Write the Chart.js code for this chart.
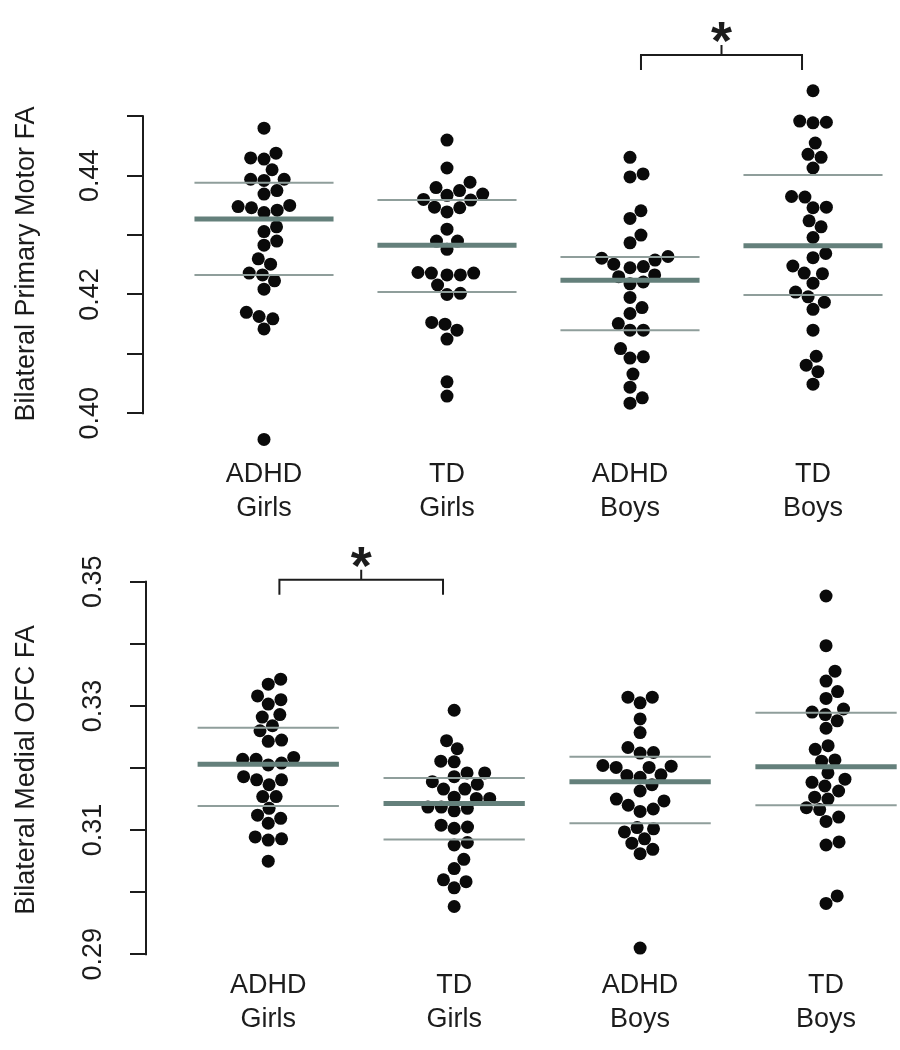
<!DOCTYPE html>
<html><head><meta charset="utf-8">
<script src="https://cdn.jsdelivr.net/npm/chart.js@4.4.1/dist/chart.umd.min.js"></script>
<style>
html,body{margin:0;padding:0;background:#fff}
#wrap{width:900px;height:1050px;position:relative}
.p{position:absolute;left:0;width:900px;height:525px}
canvas{display:block}
</style>
</head><body>
<div id="wrap">
  <div class="p" style="top:0"><canvas id="c1" width="900" height="525"></canvas></div>
  <div class="p" style="top:525px"><canvas id="c2" width="900" height="525"></canvas></div>
</div>
<script>
// ---------- DATA ----------
const groupLabels = [["ADHD","Girls"],["TD","Girls"],["ADHD","Boys"],["TD","Boys"]];

const motorAdhdGirls = [0.4480,0.4438,0.4428,0.4430,0.4410,0.4394,0.4392,0.4394,0.4369,0.4375,0.4348,0.4346,0.4338,0.4342,0.4350,0.4314,0.4306,0.4283,0.4290,0.4260,0.4251,0.4236,0.4233,0.4223,0.4209,0.4170,0.4163,0.4159,0.4142,0.3956];
const motorTdGirls   = [0.4460,0.4413,0.4380,0.4389,0.4367,0.4375,0.4369,0.4360,0.4347,0.4339,0.4346,0.4359,0.4310,0.4290,0.4290,0.4276,0.4237,0.4236,0.4233,0.4233,0.4236,0.4216,0.4200,0.4202,0.4153,0.4150,0.4140,0.4125,0.4053,0.4029];
const motorAdhdBoys  = [0.4431,0.4398,0.4403,0.4328,0.4341,0.4287,0.4300,0.4261,0.4251,0.4245,0.4247,0.4258,0.4264,0.4230,0.4218,0.4221,0.4233,0.4195,0.4168,0.4178,0.4151,0.4140,0.4140,0.4109,0.4093,0.4095,0.4066,0.4044,0.4017,0.4026];
const motorTdBoys    = [0.4543,0.4492,0.4489,0.4490,0.4455,0.4436,0.4431,0.4413,0.4365,0.4364,0.4347,0.4346,0.4324,0.4314,0.4296,0.4262,0.4269,0.4248,0.4235,0.4236,0.4219,0.4204,0.4196,0.4187,0.4175,0.4140,0.4096,0.4081,0.4070,0.4049];
// summary lines per group: [lower, mean, upper]
const motorLines = [[0.4233,0.4327,0.4388],[0.4204,0.4283,0.4359],[0.4140,0.4224,0.4263],[0.4199,0.4282,0.4401]];
const motorTicks = [0.40,0.41,0.42,0.43,0.44,0.45];
const motorTickLabels = ["0.40","0.42","0.44"];
const motorSig = [3,4];

const ofcAdhdGirls = [0.3343,0.3335,0.3316,0.3310,0.3303,0.3286,0.3282,0.3268,0.3260,0.3243,0.3245,0.3214,0.3214,0.3205,0.3208,0.3217,0.3186,0.3181,0.3173,0.3181,0.3154,0.3154,0.3135,0.3124,0.3111,0.3119,0.3089,0.3084,0.3086,0.3050];
const ofcTdGirls   = [0.3293,0.3244,0.3231,0.3210,0.3211,0.3192,0.3192,0.3186,0.3174,0.3178,0.3166,0.3166,0.3153,0.3151,0.3151,0.3137,0.3137,0.3131,0.3135,0.3108,0.3103,0.3105,0.3076,0.3080,0.3053,0.3038,0.3020,0.3017,0.3007,0.2977];
const ofcAdhdBoys  = [0.3314,0.3314,0.3305,0.3279,0.3257,0.3233,0.3224,0.3225,0.3204,0.3201,0.3201,0.3203,0.3188,0.3185,0.3189,0.3173,0.3163,0.3150,0.3147,0.3140,0.3134,0.3130,0.3104,0.3102,0.3097,0.3086,0.3079,0.3069,0.3062,0.2910];
const ofcTdBoys    = [0.3477,0.3397,0.3356,0.3340,0.3323,0.3312,0.3290,0.3286,0.3295,0.3276,0.3264,0.3236,0.3230,0.3213,0.3211,0.3192,0.3177,0.3182,0.3171,0.3163,0.3153,0.3150,0.3136,0.3133,0.3114,0.3121,0.3076,0.3081,0.2994,0.2982];
const ofcLines = [[0.3139,0.3206,0.3265],[0.3085,0.3143,0.3184],[0.3111,0.3178,0.3218],[0.3140,0.3202,0.3289]];
const ofcTicks = [0.29,0.30,0.31,0.32,0.33,0.34,0.35];
const ofcTickLabels = ["0.29","0.31","0.33","0.35"];
const ofcSig = [1,2];

// ---------- RENDERING ----------
const FONT = '"Liberation Sans", Arial, Helvetica, sans-serif';
Chart.defaults.font.family = FONT;
const INK = '#1c1c1c';
const MEAN_COLOR = '#64807b';
const BAND_COLOR = '#8f9e9b';
const DOT_D = 13.4; // swarm spacing in px

// R beeswarm "swarm" method, priority ascending; works in pixel units
function swarmOffsets(pixYs, d) {
  const idx = pixYs.map((_, i) => i).sort((a, b) => pixYs[b] - pixYs[a]);
  const placed = [];
  const off = new Array(pixYs.length).fill(0);
  for (const i of idx) {
    const yi = pixYs[i] / d;
    const close = placed.filter(p => Math.abs(yi - p.y) < 1).sort((a, b) => Math.abs(a.x) - Math.abs(b.x));
    let xi = 0;
    if (close.length) {
      const cands = [0];
      close.forEach(p => cands.push(p.x + Math.sqrt(1 - (yi - p.y) ** 2)));
      close.forEach(p => cands.push(p.x - Math.sqrt(1 - (yi - p.y) ** 2)));
      let best = 0, bestAbs = Infinity;
      for (const c of cands) {
        const bad = close.some(p => (yi - p.y) ** 2 + (c - p.x) ** 2 < 0.999);
        if (!bad && Math.abs(c) < bestAbs) { bestAbs = Math.abs(c); best = c; }
      }
      xi = best;
    }
    placed.push({ x: xi, y: yi });
    off[i] = xi * d;
  }
  return off;
}

const rAxisPlugin = {
  id: 'rAxis',
  afterDraw(chart) {
    const o = chart.options.plugins.rAxis;
    if (!o) return;
    const { ctx, chartArea: ca, scales: { x, y } } = chart;
    ctx.save();
    ctx.strokeStyle = INK; ctx.lineWidth = 2;
    ctx.beginPath();
    ctx.moveTo(ca.left, y.getPixelForValue(o.axisFrom) + 1);
    ctx.lineTo(ca.left, y.getPixelForValue(o.axisTo) - 1);
    ctx.stroke();
    const x1 = x.getPixelForValue(o.sig[0] + o.inset);
    const x2 = x.getPixelForValue(o.sig[1] - o.inset);
    const by = y.getPixelForValue(o.level);
    const xm = (x1 + x2) / 2;
    ctx.beginPath();
    ctx.moveTo(x1, by + 15); ctx.lineTo(x1, by); ctx.lineTo(x2, by); ctx.lineTo(x2, by + 15);
    ctx.moveTo(xm, by); ctx.lineTo(xm, by - 10);
    ctx.stroke();
    ctx.fillStyle = INK;
    ctx.font = 'bold 54px ' + FONT;
    ctx.textAlign = 'center'; ctx.textBaseline = 'alphabetic';
    ctx.fillText('*', xm, by + 4);
    ctx.restore();
  }
};

function makePanel(canvasId, cfg) {
  const datasets = [];
  cfg.groups.forEach((vals, gi) => {
    datasets.push({
      label: groupLabels[gi].join(' '),
      data: vals.map(v => ({ x: gi + 1, y: v })),
      pointRadius: 6.5, pointBackgroundColor: '#0a0a0a', pointBorderWidth: 0,
      pointHoverRadius: 6.5, showLine: false, order: 1, clip: false
    });
  });
  cfg.lines.forEach((trip, gi) => {
    trip.forEach((v, k) => {
      datasets.push({
        label: 'line', type: 'line',
        data: [{ x: gi + 1 - 0.38, y: v }, { x: gi + 1 + 0.38, y: v }],
        borderColor: k === 1 ? MEAN_COLOR : BAND_COLOR,
        borderWidth: k === 1 ? 5 : 2,
        pointRadius: 0, showLine: true, fill: false, order: 0, clip: false
      });
    });
  });
  const chart = new Chart(document.getElementById(canvasId), {
    type: 'scatter',
    data: { datasets },
    plugins: [rAxisPlugin],
    options: {
      responsive: false, animation: false, devicePixelRatio: 1, events: [],
      layout: { padding: { top: cfg.padTop, bottom: cfg.padBottom, left: 0, right: 0 }, autoPadding: false },
      plugins: {
        legend: { display: false }, tooltip: { enabled: false },
        rAxis: { axisFrom: cfg.ticks[0], axisTo: cfg.ticks[cfg.ticks.length - 1], sig: cfg.sig, inset: 0.06, level: cfg.sigLevel }
      },
      scales: {
        x: {
          type: 'linear', min: cfg.xMin, max: cfg.xMax,
          afterBuildTicks: s => { s.ticks = groupLabels.map((_, i) => ({ value: i + 1 })); },
          ticks: {
            callback: v => groupLabels[Math.round(v) - 1],
            font: { size: 27, lineHeight: '34px' }, color: INK, padding: 10,
            autoSkip: false, maxRotation: 0, minRotation: 0
          },
          grid: { display: false, drawTicks: false },
          border: { display: false },
          afterFit: s => { s.height = 77; }
        },
        y: {
          type: 'linear', min: cfg.yMin, max: cfg.yMax,
          afterBuildTicks: s => { s.ticks = cfg.ticks.map(v => ({ value: v })); },
          ticks: {
            callback: v => { const t = v.toFixed(2); return cfg.tickLabels.includes(t) ? t : ''; },
            font: { size: 27 }, color: INK, autoSkip: false,
            minRotation: 90, maxRotation: 90, crossAlign: 'center', padding: 10
          },
          grid: { display: true, drawOnChartArea: false, drawTicks: true, tickLength: 16, color: INK, lineWidth: 2 },
          border: { display: false },
          title: { display: true, text: cfg.title, font: { size: 27 }, color: INK, padding: { top: 10, bottom: 0 } },
          afterFit: s => { s.width = cfg.axisLeft; }
        }
      }
    }
  });
  // beeswarm placement computed through the chart's own scales
  const xs = chart.scales.x, ys = chart.scales.y;
  const ppu = xs.getPixelForValue(2) - xs.getPixelForValue(1);
  cfg.groups.forEach((vals, gi) => {
    const off = swarmOffsets(vals.map(v => ys.getPixelForValue(v)), DOT_D);
    chart.data.datasets[gi].data = vals.map((v, k) => ({ x: gi + 1 + off[k] / ppu, y: v }));
  });
  chart.update('none');
  return chart;
}

makePanel('c1', {
  groups: [motorAdhdGirls, motorTdGirls, motorAdhdBoys, motorTdBoys],
  lines: motorLines, ticks: motorTicks, tickLabels: motorTickLabels,
  title: 'Bilateral Primary Motor FA', sig: motorSig, sigLevel: 0.4603,
  yMin: 0.394158, yMax: 0.456111, xMin: 0.3388, xMax: 4.4754,
  padTop: 80, padBottom: 0, axisLeft: 143
});
makePanel('c2', {
  groups: [ofcAdhdGirls, ofcTdGirls, ofcAdhdBoys, ofcTdBoys],
  lines: ofcLines, ticks: ofcTicks, tickLabels: ofcTickLabels,
  title: 'Bilateral Medial OFC FA', sig: ofcSig, sigLevel: 0.3503,
  yMin: 0.289243, yMax: 0.350113, xMin: 0.3425, xMax: 4.3978,
  padTop: 56, padBottom: 14, axisLeft: 146
});
</script>
</body></html>
